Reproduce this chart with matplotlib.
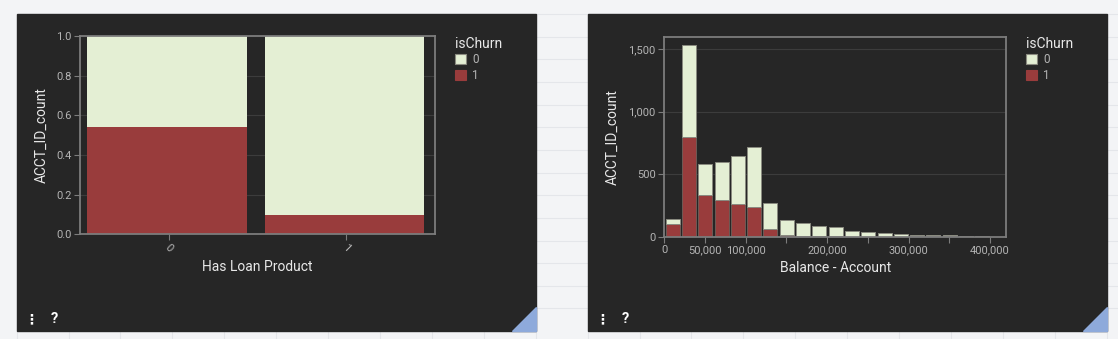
import matplotlib.pyplot as plt
import numpy as np
from matplotlib.patches import Rectangle, Polygon, Patch

plt.rcParams['font.family'] = ['Roboto', 'DejaVu Sans']

# ---- data ----
loan_cats = ['0', '1']
loan_churn1 = [0.54, 0.097]
loan_churn0 = [1 - v for v in loan_churn1]

bin_edges = np.arange(0, 420000, 20000)
bal_total = [141, 1537, 578, 597, 642, 717, 266, 131, 107, 82, 76, 43, 37, 27, 21, 11, 13, 11, 3, 2, 1]
bal_churn1 = [99, 797, 330, 293, 261, 234, 59, 13, 8, 8, 3, 1, 1, 0, 0, 4, 2, 8, 1, 0, 0]
bal_churn0 = [t - r for t, r in zip(bal_total, bal_churn1)]

xticks_bal = [0, 50000, 100000, 150000, 200000, 250000, 300000, 350000, 400000]
xticklabels_bal = ['0', '50,000', '100,000', '', '200,000', '', '300,000', '', '400,000']

# ---- style ----
PAGE = '#f3f4f6'
PANEL = '#262626'
LIGHT = '#e4efd4'
RED = '#993c3c'
GRID = '#3c3c3c'
FRAME = '#7c7c7c'
TICK_TXT = '#b4b4b4'
TITLE_TXT = '#e8e8e8'

W, H = 1118, 339
fig = plt.figure(figsize=(W / 100, H / 100), dpi=100, facecolor=PAGE)

bg = fig.add_axes([0, 0, 1, 1])
bg.set_xlim(0, W)
bg.set_ylim(H, 0)
bg.axis('off')

# faint spreadsheet grid behind the panels
for x in np.arange(16.7, W, 51.9):
    bg.plot([x, x], [331, H], color='#e4e6ea', lw=0.8, zorder=0)
for y in np.arange(14, 331, 22.65):
    bg.plot([536, 588], [y, y], color='#e4e6ea', lw=0.8, zorder=0)
    bg.plot([1107, W], [y, y], color='#e4e6ea', lw=0.8, zorder=0)

for (x0, x1) in [(16.7, 536), (588, 1107)]:
    bg.add_patch(Rectangle((x0, 14), x1 - x0, 331 - 14, color=PANEL, zorder=1))
    bg.add_patch(Polygon([[x1 - 24, 331], [x1, 331], [x1, 307]], closed=True,
                         color='#8eaadb', zorder=2))
    bg.text(x0 + 14.5, 319, '⋮', color='white', fontsize=10, fontweight='bold',
            ha='center', va='center', family=['DejaVu Sans'], zorder=3)
    bg.text(x0 + 37.5, 319, '?', color='white', fontsize=10.5, fontweight='bold',
            ha='center', va='center', zorder=3)


def style_axes(ax):
    ax.set_facecolor(PANEL)
    for s in ax.spines.values():
        s.set_color(FRAME)
        s.set_linewidth(1.3)
    ax.tick_params(colors=FRAME, labelcolor=TICK_TXT, labelsize=8, length=4,
                   width=0.8, pad=2)
    ax.grid(axis='y', color=GRID, lw=0.8)
    ax.set_axisbelow(True)


def add_legend(ax, x, y):
    handles = [Patch(facecolor=LIGHT, edgecolor='#8a8a80', lw=0.8),
               Patch(facecolor=RED, edgecolor=RED, lw=0.8)]
    leg = fig.legend(handles, ['0', '1'], title='isChurn', loc='upper left',
                     bbox_to_anchor=(x / W, 1 - y / H), frameon=False,
                     fontsize=8.5, title_fontsize=10, handlelength=0.95,
                     handleheight=0.95, handletextpad=0.5, labelspacing=0.2,
                     borderpad=0, borderaxespad=0, alignment='left')
    for t in leg.get_texts():
        t.set_color(TICK_TXT)
    leg.get_title().set_color(TITLE_TXT)


# ---- left chart: normalized stacked bar ----
ax1 = fig.add_axes([80 / W, (H - 234.3) / H, 355 / W, 198.3 / H])
style_axes(ax1)
xpos = np.arange(len(loan_cats))
ax1.bar(xpos - 0.01, loan_churn1, width=0.9, color=RED, zorder=2)
ax1.bar(xpos - 0.01, loan_churn0, width=0.9, bottom=loan_churn1, color=LIGHT, zorder=2)
ax1.set_xlim(-0.5, 1.5)
ax1.set_ylim(0, 1)
ax1.set_yticks([0, 0.2, 0.4, 0.6, 0.8, 1.0])
ax1.set_yticklabels(['0.0', '0.2', '0.4', '0.6', '0.8', '1.0'])
ax1.set_xticks(xpos)
ax1.set_xticklabels(loan_cats, rotation=-45, ha='center', va='top')
ax1.set_xlabel('Has Loan Product', color=TITLE_TXT, fontsize=10)
ax1.set_ylabel('ACCT_ID_count', color=TITLE_TXT, fontsize=10)
ax1.xaxis.set_label_coords(0.499, -0.163)
ax1.xaxis.label.set_va('center')
ax1.yaxis.set_label_coords(-0.107, 0.5)
ax1.yaxis.label.set_va('center')
add_legend(ax1, 455, 37)

# ---- right chart: stacked histogram ----
ax2 = fig.add_axes([664 / W, (H - 236.7) / H, 342.3 / W, 200 / H])
style_axes(ax2)
ax2.bar(bin_edges + 2000, bal_churn1, width=17200, align='edge', color=RED,
        edgecolor='#6e5a55', lw=0.7, zorder=2)
ax2.bar(bin_edges + 2000, bal_churn0, width=17200, align='edge', bottom=bal_churn1,
        color=LIGHT, edgecolor='#8a8a80', lw=0.7, zorder=2)
ax2.set_xlim(0, 420000)
ax2.set_ylim(0, 1600)
ax2.set_yticks([0, 500, 1000, 1500])
ax2.set_yticklabels(['0', '500', '1,000', '1,500'])
ax2.set_xticks(xticks_bal)
ax2.set_xticklabels(xticklabels_bal)
ax2.set_xlabel('Balance - Account', color=TITLE_TXT, fontsize=10)
ax2.set_ylabel('ACCT_ID_count', color=TITLE_TXT, fontsize=10)
ax2.xaxis.set_label_coords(0.5, -0.158)
ax2.xaxis.label.set_va('center')
ax2.yaxis.set_label_coords(-0.149, 0.5)
ax2.yaxis.label.set_va('center')
add_legend(ax2, 1026, 37)

fig.savefig('out.png', dpi=100, facecolor=PAGE)
